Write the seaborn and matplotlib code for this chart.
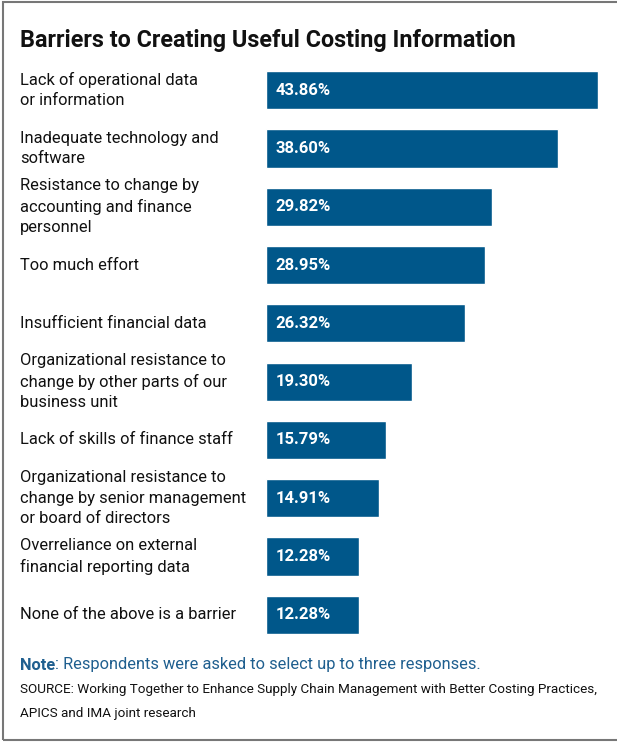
import pandas as pd
import matplotlib.pyplot as plt
import matplotlib.transforms as mtransforms
from matplotlib.patches import Rectangle
import seaborn as sns

# Chart data
barriers = [
    "Lack of operational data\nor information",
    "Inadequate technology and\nsoftware",
    "Resistance to change by\naccounting and finance\npersonnel",
    "Too much effort",
    "Insufficient financial data",
    "Organizational resistance to\nchange by other parts of our\nbusiness unit",
    "Lack of skills of finance staff",
    "Organizational resistance to\nchange by senior management\nor board of directors",
    "Overreliance on external\nfinancial reporting data",
    "None of the above is a barrier",
]
shares = [43.86, 38.60, 29.82, 28.95, 26.32, 19.30, 15.79, 14.91, 12.28, 12.28]

title = "Barriers to Creating Useful Costing Information"
note = ": Respondents were asked to select up to three responses."
source1 = "SOURCE: Working Together to Enhance Supply Chain Management with Better Costing Practices,"
source2 = "APICS and IMA joint research"

df = pd.DataFrame({"Barrier": barriers, "Share": shares})

sns.set_style("white")
plt.rcParams["font.family"] = ["Roboto", "DejaVu Sans"]

bar_color = "#00578a"
note_color = "#1f5f8f"
W, H = 617, 742
fig = plt.figure(figsize=(W / 100, H / 100), dpi=100)
renderer = fig.canvas.get_renderer()


def fit_size(txt, width_px, weight="normal"):
    # font size that makes the widest line of txt about width_px wide
    t = fig.text(0, 0, txt, fontsize=10, fontweight=weight)
    w = t.get_window_extent(renderer).width
    t.remove()
    return 10 * width_px / w


ax = fig.add_axes([266 / W, 1 - 644 / H, (600 - 266) / W, (644 - 61) / H])

sns.barplot(data=df, x="Share", y="Barrier", color=bar_color, width=0.655,
            saturation=1, ax=ax)
ax.set_xlim(0, 44.1)
ax.set_ylim(len(barriers) - 0.5, -0.5)
ax.set_xlabel("")
ax.set_ylabel("")
ax.set_xticks([])
ax.set_yticks([])
sns.despine(ax=ax, left=True, bottom=True)

# value labels inside bars
val_fs = fit_size("43.86%", 55, "bold")
for i, v in enumerate(shares):
    ax.text(1.3, i, f"{v:.2f}%", color="white", fontsize=val_fs, fontweight="bold",
            va="center", ha="left")

# category labels, left aligned at the panel margin
lab_fs = fit_size("Organizational resistance to", 206)
trans = mtransforms.blended_transform_factory(fig.transFigure, ax.transData)
for i, lab in enumerate(barriers):
    ax.text(20 / W, i, lab, transform=trans, fontsize=lab_fs, va="center", ha="left",
            linespacing=1.45, color="#111111")

fig.text(20 / W, 1 - 41 / H, title, fontsize=fit_size(title, 498, "bold"),
         fontweight="bold", va="center", ha="left", color="#111111")

note_fs = fit_size("Note" + note, 458)
note_t = fig.text(20 / W, 1 - 665 / H, "Note", fontsize=note_fs, fontweight="bold",
                  color=note_color, va="center", ha="left")
bb = note_t.get_window_extent(renderer)
fig.text(bb.x1 / W, 1 - 665 / H, note, fontsize=note_fs, color=note_color,
         va="center", ha="left")

src_fs = fit_size(source1, 578)
fig.text(20 / W, 1 - 690 / H, source1, fontsize=src_fs, color="#111111",
         va="center", ha="left")
fig.text(20 / W, 1 - 713 / H, source2, fontsize=src_fs, color="#111111",
         va="center", ha="left")

# panel border
fig.patches.append(Rectangle((3 / W, 1 - 740 / H), 1.2, (740 - 2) / H,
                             transform=fig.transFigure, fill=False,
                             edgecolor="#777777", linewidth=1.5))

plt.savefig("out.png", dpi=100)
